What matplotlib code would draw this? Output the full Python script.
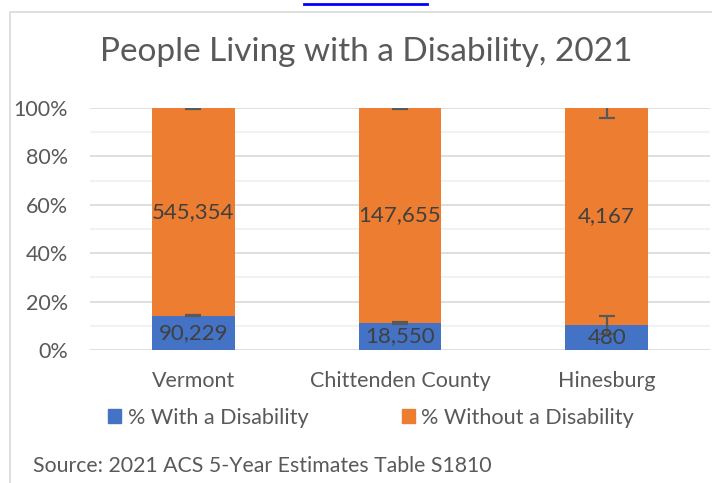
import matplotlib
matplotlib.use("Agg")
import matplotlib.pyplot as plt
from matplotlib.lines import Line2D
from matplotlib.patches import Rectangle
from matplotlib.ticker import FuncFormatter, MultipleLocator
import numpy as np

categories = ["Vermont", "Chittenden County", "Hinesburg"]
with_disability = [90229, 18550, 480]
without_disability = [545354, 147655, 4167]
# margin-of-error bars, as share of total population
err_with = [0.003, 0.005, 0.037]
err_without = [0.003, 0.005, 0.04]
series_labels = ["% With a Disability", "% Without a Disability"]
title = "People Living with a Disability, 2021"
source = "Source: 2021 ACS 5-Year Estimates Table S1810"

BLUE = "#4472C4"
ORANGE = "#ED7D31"
TEXT = "#595959"
LABEL = "#404040"
FONT = "Lato"

plt.rcParams["font.family"] = [FONT, "DejaVu Sans"]

fig = plt.figure(figsize=(7.12, 4.83), dpi=100)
W, H = 712, 483

# chart frame
fig.add_artist(Rectangle((10 / W, -0.05), 1.1, (H - 12) / H + 0.05,
                         transform=fig.transFigure, fill=False,
                         edgecolor="#d9d9d9", linewidth=1.2))
# hyperlink underline peeking above the chart
fig.add_artist(Line2D([304 / W, 427 / W], [1 - 4 / H, 1 - 4 / H],
                      transform=fig.transFigure, color="#0000FF", linewidth=2))

ax = fig.add_axes([90 / W, (H - 350) / H, 620 / W, 242 / H])

tot = np.array(with_disability) + np.array(without_disability)
p_with = np.array(with_disability) / tot
p_without = np.array(without_disability) / tot
x = np.arange(len(categories)) + 0.5

err_kw = dict(ecolor="#595959", elinewidth=1.6, capsize=5.5, capthick=1.6)
ax.bar(x, p_with, width=0.4, color=BLUE, label=series_labels[0],
       yerr=err_with, error_kw=err_kw, zorder=3)
ax.bar(x, p_without, width=0.4, bottom=p_with, color=ORANGE,
       label=series_labels[1], yerr=err_without, error_kw=err_kw, zorder=3)

for xi, pw, po, vw, vo in zip(x, p_with, p_without, with_disability, without_disability):
    ax.text(xi, pw / 2, f"{vw:,}", ha="center", va="center", fontsize=16,
            color=LABEL, zorder=5)
    ax.text(xi, pw + po / 2, f"{vo:,}", ha="center", va="center", fontsize=16,
            color=LABEL, zorder=5)

ax.set_xlim(0, 3)
ax.set_ylim(0, 1)
ax.yaxis.set_major_locator(MultipleLocator(0.2))
ax.yaxis.set_minor_locator(MultipleLocator(0.1))
ax.yaxis.set_major_formatter(FuncFormatter(lambda v, p: f"{v * 100:.0f}%"))
ax.grid(axis="y", which="major", color="#d9d9d9", linewidth=1.2, zorder=0)
ax.grid(axis="y", which="minor", color="#f0f0f0", linewidth=1.2, zorder=0)
for s in ax.spines.values():
    s.set_visible(False)
ax.set_xticks(x)
ax.set_xticklabels(categories)
ax.tick_params(axis="both", which="both", length=0, colors=TEXT, labelsize=15.5)
ax.tick_params(axis="y", pad=16)
ax.tick_params(axis="x", pad=15)
ax.set_axisbelow(True)

fig.text(366 / W, 1 - 52 / H, title, ha="center", va="center",
         fontsize=24, color=TEXT)

handles = [Rectangle((0, 0), 1, 1, color=BLUE), Rectangle((0, 0), 1, 1, color=ORANGE)]
fig.legend(handles, series_labels, loc="center", bbox_to_anchor=(371 / W, 1 - 418 / H),
           ncol=2, frameon=False, fontsize=15.6, labelcolor=TEXT,
           handlelength=0.6, handleheight=0.6, handletextpad=0.3, columnspacing=4.3)

fig.text(33 / W, 1 - 466 / H, source, ha="left", va="center", fontsize=15.3, color=TEXT)

fig.savefig("out.png", dpi=100, facecolor="white")
